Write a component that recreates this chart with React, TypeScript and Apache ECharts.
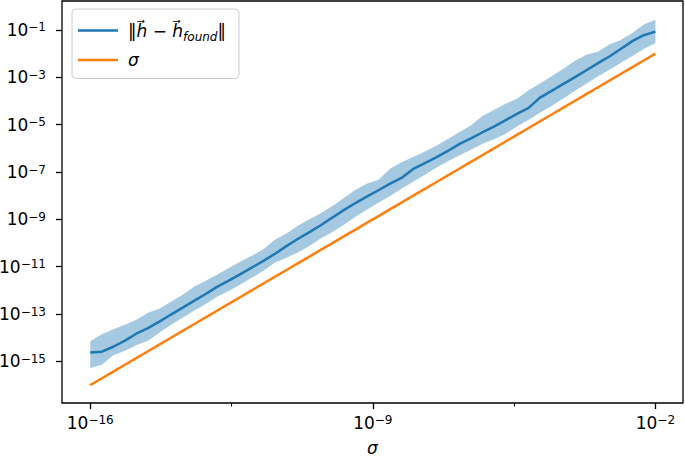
import React, { useEffect, useRef } from 'react';
import * as echarts from 'echarts';

// log10 of sigma (x) sampled points
const sigmaExp = [
  -16.0, -15.71, -15.43, -15.14, -14.86, -14.57, -14.29, -14.0, -13.71, -13.43,
  -13.14, -12.86, -12.57, -12.29, -12.0, -11.71, -11.43, -11.14, -10.86, -10.57,
  -10.29, -10.0, -9.71, -9.43, -9.14, -8.86, -8.57, -8.29, -8.0, -7.71,
  -7.43, -7.14, -6.86, -6.57, -6.29, -6.0, -5.71, -5.43, -5.14, -4.86,
  -4.57, -4.29, -4.0, -3.71, -3.43, -3.14, -2.86, -2.57, -2.29, -2.0,
];
// log10 of ||h - h_found|| (mean line)
const errExp = [
  -14.62, -14.59, -14.38, -14.12, -13.83, -13.59, -13.32, -13.02, -12.73, -12.44,
  -12.15, -11.85, -11.59, -11.32, -11.04, -10.75, -10.46, -10.13, -9.83, -9.54,
  -9.25, -8.92, -8.6, -8.31, -8.03, -7.77, -7.49, -7.25, -6.87, -6.62,
  -6.38, -6.11, -5.82, -5.58, -5.33, -5.08, -4.81, -4.54, -4.29, -3.86,
  -3.57, -3.29, -3.0, -2.7, -2.41, -2.12, -1.8, -1.47, -1.22, -1.07,
];
// log10 of band upper edge
const upperExp = [
  -14.15, -13.85, -13.64, -13.45, -13.24, -12.94, -12.78, -12.48, -12.18, -11.85,
  -11.59, -11.34, -11.05, -10.79, -10.54, -10.26, -9.86, -9.6, -9.27, -8.99,
  -8.74, -8.44, -8.09, -7.75, -7.48, -7.33, -6.86, -6.59, -6.36, -6.13,
  -5.89, -5.61, -5.32, -5.03, -4.63, -4.38, -4.12, -3.91, -3.55, -3.26,
  -2.95, -2.65, -2.31, -2.05, -1.92, -1.61, -1.42, -1.13, -0.77, -0.57,
];
// log10 of band lower edge
const lowerExp = [
  -15.28, -15.14, -14.74, -14.55, -14.32, -14.13, -13.79, -13.45, -13.16, -12.86,
  -12.57, -12.27, -12.02, -11.76, -11.47, -11.17, -10.83, -10.62, -10.4, -10.12,
  -9.81, -9.53, -9.22, -8.89, -8.58, -8.3, -8.01, -7.71, -7.41, -7.12,
  -6.82, -6.55, -6.3, -6.06, -5.82, -5.62, -5.38, -5.08, -4.79, -4.5,
  -4.21, -3.91, -3.58, -3.27, -2.97, -2.68, -2.39, -2.1, -1.8, -1.56,
];

const xMajorTicks = [1e-16, 1e-9, 1e-2];
const xMinorTicks = [Math.pow(10, -12.5), Math.pow(10, -5.5)];
const yTicks = [1e-15, 1e-13, 1e-11, 1e-9, 1e-7, 1e-5, 1e-3, 1e-1];

const X_MIN = Math.pow(10, -16.7);
const X_MAX = Math.pow(10, -1.316);
const Y_MIN = Math.pow(10, -16.756);
const Y_MAX = Math.pow(10, 0.224);

const FONT = 'DejaVu Sans';
const BLUE = '#1f77b4';
const ORANGE = '#ff7f0e';

const powLabel = (v: number) => {
  const e = Math.round(Math.log10(v));
  return `{b|10}{s|${e < 0 ? '\u2212' : ''}${Math.abs(e)}}`;
};

const labelRich = {
  b: { fontFamily: FONT, fontSize: 17, color: '#000', lineHeight: 17, verticalAlign: 'bottom' },
  s: { fontFamily: FONT, fontSize: 12, color: '#000', lineHeight: 12, verticalAlign: 'top' },
};

export default function App() {
  const ref = useRef<HTMLDivElement>(null);
  useEffect(() => {
    if (!ref.current) return;
    const chart = echarts.init(ref.current, undefined, { renderer: 'svg' });
    const p = (e: number) => Math.pow(10, e);
    const bandData = sigmaExp.map((e, i) => [p(e), p(lowerExp[i]), p(upperExp[i])]);
    const errData = sigmaExp.map((e, i) => [p(e), p(errExp[i])]);
    const sigData = sigmaExp.map((e) => [p(e), p(e)]);

    const option: any = {
      animation: false,
      grid: {
        left: 62,
        right: 2,
        top: 1,
        bottom: 55,
        outerBoundsMode: 'none',
        containLabel: false,
        show: true,
        borderColor: '#000',
        borderWidth: 1.3,
        backgroundColor: '#fff',
      },
      legend: {
        data: ['err', 'sigma'],
        orient: 'vertical',
        left: 72,
        top: 9,
        icon: 'rect',
        itemWidth: 40,
        itemHeight: 2.5,
        itemGap: 9,
        padding: [13, 13, 10, 6],
        backgroundColor: 'rgba(255,255,255,0.8)',
        borderColor: '#cccccc',
        borderWidth: 1,
        borderRadius: 4,
        selectedMode: false,
        formatter: (name: string) =>
          name === 'err'
            ? '{n|\u2016}{i|h\u20D7}{n| \u2212 }{i|h\u20D7}{sub|found}{n|\u2016}'
            : '{i|\u03C3}',
        textStyle: {
          fontFamily: FONT,
          fontSize: 17,
          color: '#000',
          padding: [0, 0, 0, 5],
          rich: {
            n: { fontFamily: FONT, fontSize: 17, lineHeight: 24, color: '#000' },
            i: { fontFamily: FONT, fontSize: 17, lineHeight: 24, fontStyle: 'italic', color: '#000' },
            sub: { fontFamily: FONT, fontSize: 12, lineHeight: 12, fontStyle: 'italic', color: '#000', verticalAlign: 'bottom' },
          },
        },
      },
      xAxis: [
        {
          type: 'log',
          logBase: 10,
          min: X_MIN,
          max: X_MAX,
          position: 'bottom',
          axisLine: { show: false },
          splitLine: { show: false },
          axisTick: { show: true, customValues: xMajorTicks, length: 6, lineStyle: { color: '#000', width: 1.3 } },
          axisLabel: { show: true, customValues: xMajorTicks, formatter: powLabel, rich: labelRich, margin: 11 },
          name: '\u03C3',
          nameLocation: 'middle',
          nameGap: 39,
          nameTextStyle: { fontFamily: FONT, fontSize: 17, lineHeight: 12, fontStyle: 'italic', color: '#000' },
        },
        {
          type: 'log',
          logBase: 10,
          min: X_MIN,
          max: X_MAX,
          position: 'bottom',
          axisLine: { show: false },
          splitLine: { show: false },
          axisTick: { show: true, customValues: xMinorTicks, length: 3.5, lineStyle: { color: '#000', width: 1.1 } },
          axisLabel: { show: false },
        },
      ],
      yAxis: {
        type: 'log',
        logBase: 10,
        min: Y_MIN,
        max: Y_MAX,
        axisLine: { show: false },
        splitLine: { show: false },
        axisTick: { show: true, customValues: yTicks, length: 6, lineStyle: { color: '#000', width: 1.3 } },
        axisLabel: { show: true, customValues: yTicks, formatter: powLabel, rich: labelRich, margin: 16 },
      },
      series: [
        {
          name: 'band',
          type: 'custom',
          data: bandData,
          encode: { x: 0, y: [1, 2] },
          silent: true,
          z: 1,
          renderItem: (params: any, api: any) => {
            if (params.dataIndex !== 0) return null;
            const up = bandData.map((d) => api.coord([d[0], d[2]]));
            const lo = bandData.map((d) => api.coord([d[0], d[1]])).reverse();
            return {
              type: 'polygon',
              shape: { points: up.concat(lo) },
              style: { fill: BLUE, opacity: 0.4 },
            };
          },
        },
        {
          name: 'err',
          type: 'line',
          data: errData,
          showSymbol: false,
          symbol: 'none',
          color: BLUE,
          lineStyle: { color: BLUE, width: 2.5 },
          z: 3,
        },
        {
          name: 'sigma',
          type: 'line',
          data: sigData,
          showSymbol: false,
          symbol: 'none',
          color: ORANGE,
          lineStyle: { color: ORANGE, width: 2.5 },
          z: 3,
        },
      ],
    };
    chart.setOption(option);
    return () => chart.dispose();
  }, []);
  return (
    <div
      ref={ref}
      style={{ position: 'fixed', left: 0, top: 0, width: 685, height: 458, background: '#fff' }}
    />
  );
}
